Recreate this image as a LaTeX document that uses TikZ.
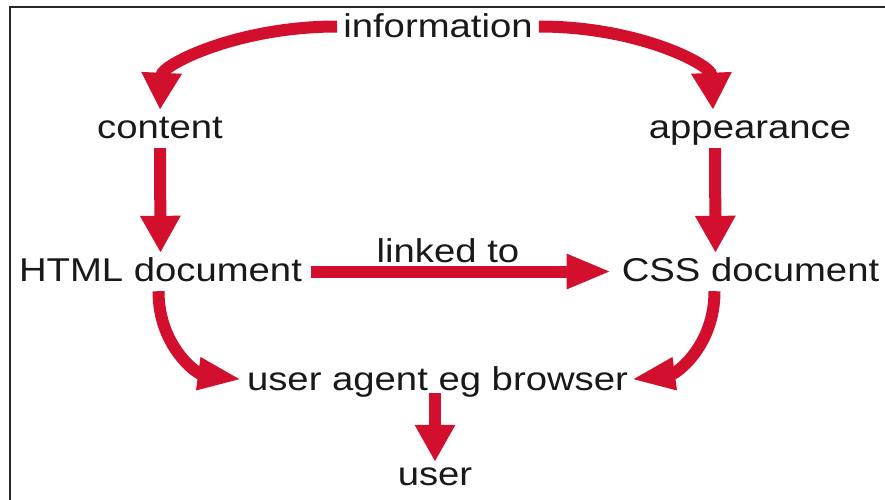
\documentclass[tikz,border=0pt]{standalone}
\usepackage{fontspec}
\setmainfont{Liberation Sans}[FakeStretch=1.16]
\usetikzlibrary{arrows.meta,calc}
\definecolor{arrred}{RGB}{210,16,46}
\begin{document}
\begin{tikzpicture}[x=1pt,y=-1pt,
  lbl/.style={anchor=base,inner xsep=6pt,inner ysep=0pt,text height=28pt,text depth=7pt,
    font=\fontsize{33}{38}\selectfont,text=black!90},
  arr/.style={draw=arrred,line width=12pt,-{Triangle[length=37pt,width=38pt]},arrred},
  arrh/.style={draw=arrred,line width=12pt,-{Triangle[length=45pt,width=32pt]},arrred},
  arrc/.style={draw=arrred,line width=12pt,-{Triangle[length=44pt,width=30pt]},arrred}]
\useasboundingbox (0,0) rectangle (885,499);
\begin{scope}
\clip (0,0) rectangle (885,499);
\draw[line width=2.5pt,black!85] (10,510) -- (10,7) -- (895,7);
\end{scope}

\node[lbl] (info) at (438,37) {information};
\node[lbl] (content) at (160,138) {content};
\node[lbl] (appear) at (750,138) {appearance};
\node[lbl] (html) at (160.5,281) {HTML document};
\node[lbl] (css) at (750.5,281) {CSS document};
\node[lbl] (linked) at (448,262) {linked to};
\node[lbl] (ua) at (437.5,390) {user agent eg browser};
\node[lbl] (user) at (435,485) {user};

\draw[arr] (info.west) .. controls +(-100,0) and +(2,-45) .. (content.north);
\draw[arr] (info.east) .. controls +(100,0) and +(-2,-45) .. ($(appear.north)+(-37,0)$);
\draw[arr] ($(content.south)+(0,3)$) -- (html.north);
\draw[arr] ($(appear.south)+(-35,3)$) -- ($(css.north)+(-35,0)$);
\draw[arrh] ($(html.east)+(3,1)$) -- ($(css.west)+(-4,1)$);
\draw[arrc] ($(html.south)+(-2,3)$) .. controls +(0,55) and +(-45,-6) .. ($(ua.west)+(1,0)$);
\draw[arrc] ($(css.south)+(-36,3)$) .. controls +(0,55) and +(45,-6) .. ($(ua.east)+(-3,0)$);
\draw[arr] ($(ua.south -| user.north)+(0,-4)$) -- ($(user.north)+(0,5)$);
\end{tikzpicture}
\end{document}
